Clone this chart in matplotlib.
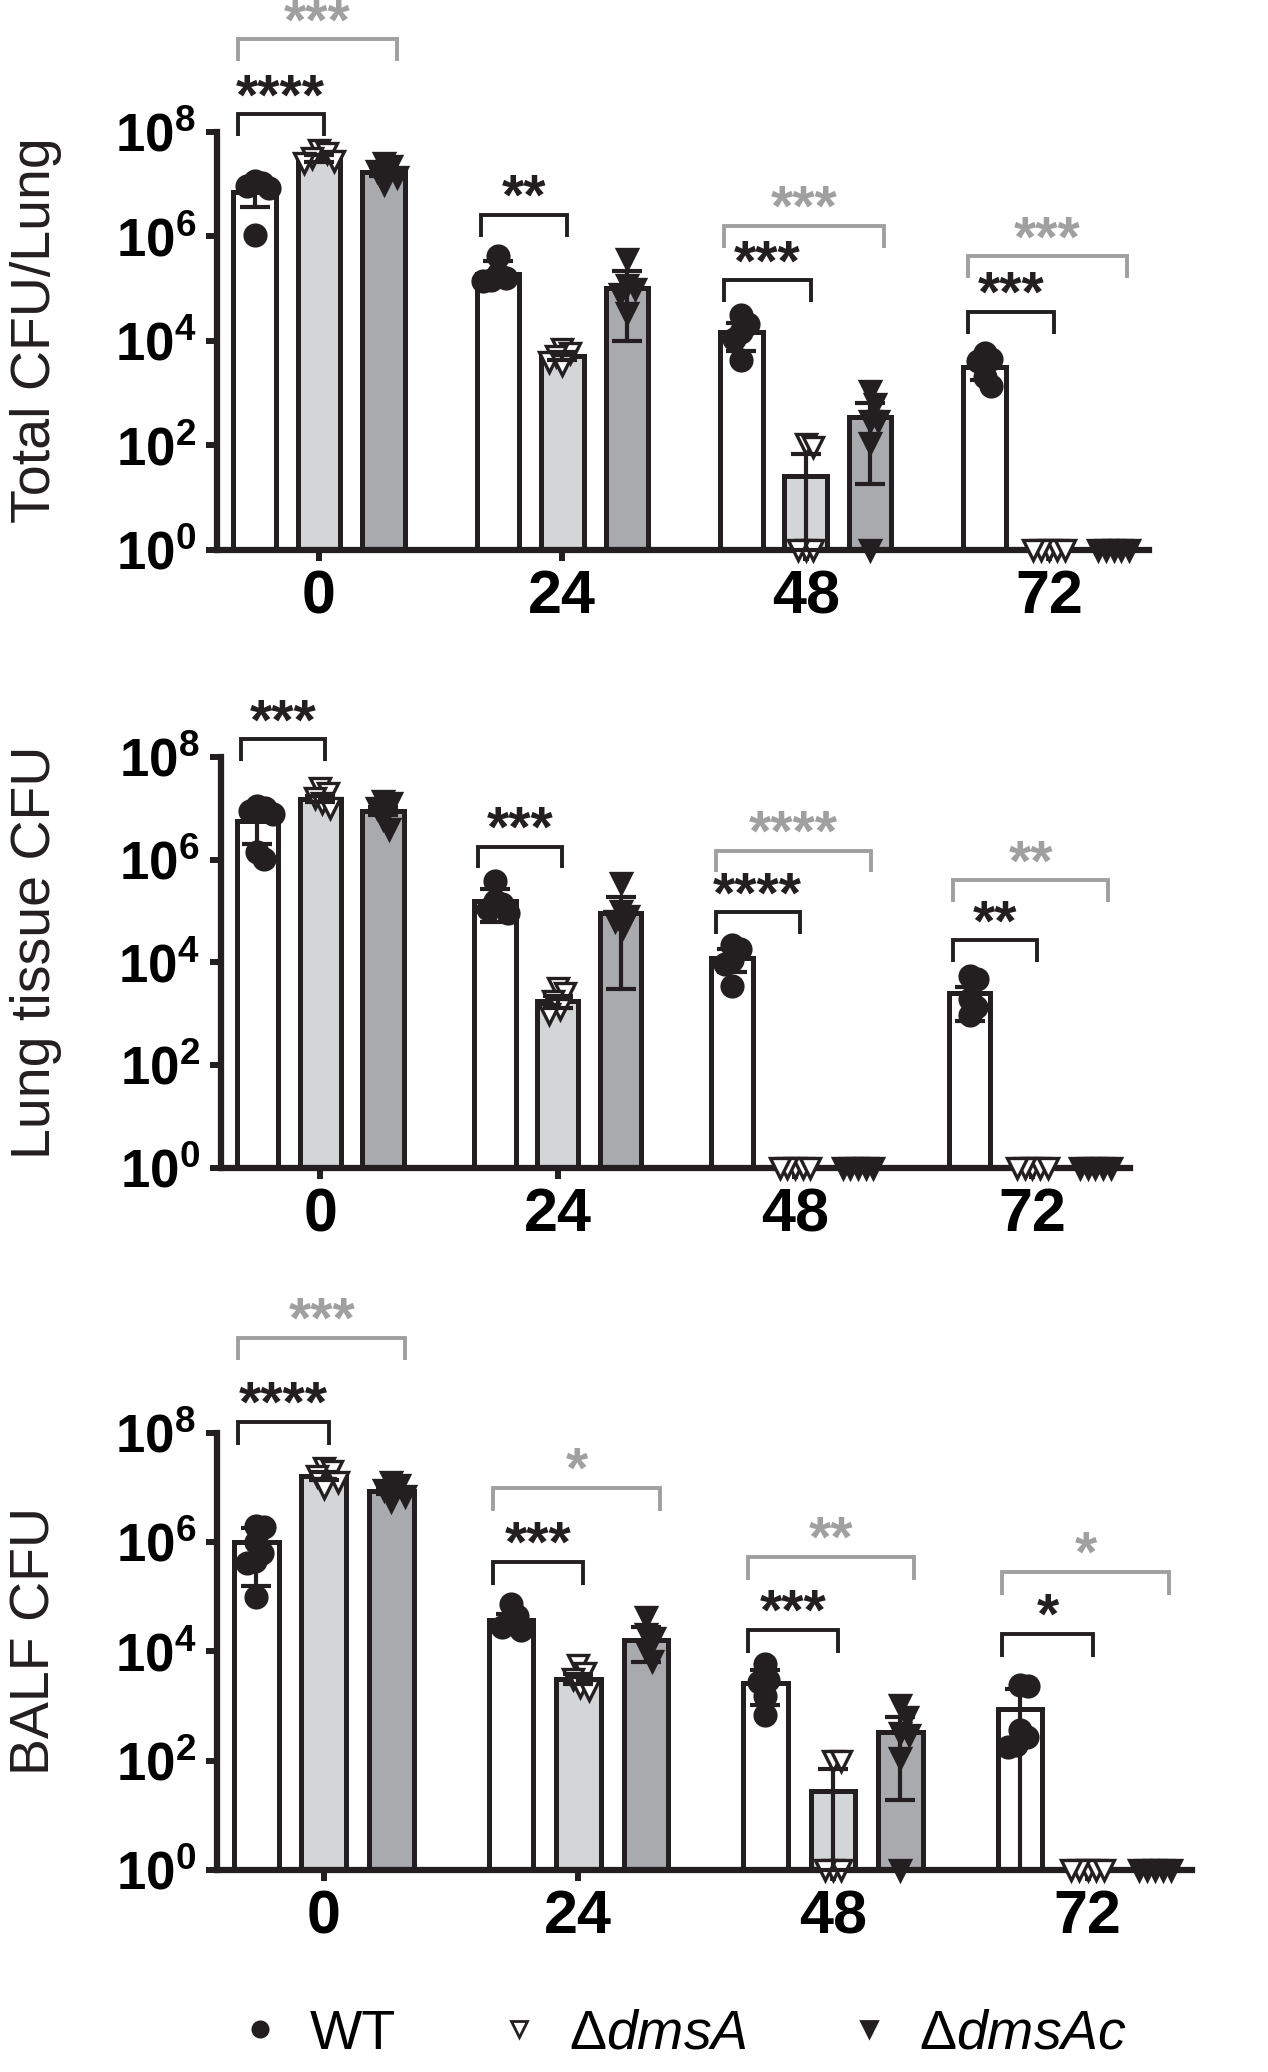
import numpy as np
import matplotlib
matplotlib.use('Agg')
import matplotlib.pyplot as plt
from matplotlib import font_manager
from matplotlib.lines import Line2D
from matplotlib.ticker import NullLocator

# ---------------- data (CFU) ----------------
groups = ['0', '24', '48', '72']
strains = ['WT', r'$\Delta\mathit{dmsA}$', r'$\Delta\mathit{dmsAc}$']

# panel 1: total CFU / lung
total_mean = [[7.0e6, 1.9e5, 1.5e4, 3.2e3],
              [3.1e7, 5.2e3, 26, 0],
              [1.75e7, 1.05e5, 350, 0]]
total_lo = [[3.7e6, 1.3e5, 6.5e3, 1.75e3],
            [2.7e7, 4.3e3, 1, 0],
            [1.45e7, 1.0e4, 18, 0]]
total_hi = [[1.05e7, 3.4e5, 2.2e4, 4.3e3],
            [3.6e7, 6.1e3, 68, 0],
            [2.1e7, 2.15e5, 650, 0]]
total_pts = [[[1.15e7, 1.07e7, 9.3e6, 8.3e6, 1.07e6],
              [4.2e5, 1.95e5, 1.6e5, 1.5e5, 1.4e5],
              [3.1e4, 2.1e4, 1.5e4, 1.1e4, 4.4e3],
              [6.0e3, 4.5e3, 4.2e3, 2.0e3, 1.4e3]],
             [[4.5e7, 4.0e7, 3.2e7, 2.8e7, 2.5e7],
              [7.1e3, 6.0e3, 5.2e3, 4.0e3, 3.5e3],
              [105, 95, 0, 0, 0],
              [0, 0, 0, 0, 0]],
             [[2.6e7, 2.2e7, 1.8e7, 1.4e7, 1.0e7],
              [3.7e5, 1.2e5, 1.0e5, 8.0e4, 3.5e4],
              [1.1e3, 620, 300, 290, 110, 0],
              [0, 0, 0, 0, 0]]]
total_sig_black = ['****', '**', '***', '***']
total_sig_black_y = [2.2e8, 2.6e6, 1.45e5, 3.6e4]
total_sig_gray = ['***', '', '***', '***']
total_sig_gray_y = [6.0e9, 0, 1.6e6, 4.2e5]

# panel 2: lung tissue CFU
tissue_mean = [[5.6e6, 1.55e5, 1.2e4, 2.6e3],
               [1.5e7, 1.75e3, 0, 0],
               [9.0e6, 9.1e4, 0, 0]]
tissue_lo = [[2.0e6, 6.0e4, 6.5e3, 7.4e2],
             [1.3e7, 1.3e3, 0, 0],
             [7.5e6, 3.1e3, 0, 0]]
tissue_hi = [[9.2e6, 2.7e5, 1.8e4, 3.3e3],
             [1.7e7, 2.2e3, 0, 0],
             [1.05e7, 1.85e5, 0, 0]]
tissue_pts = [[[1.1e7, 1.0e7, 8.9e6, 7.9e6, 1.4e6, 1.05e6],
               [3.8e5, 1.6e5, 1.4e5, 1.1e5, 9.0e4],
               [2.2e4, 1.8e4, 1.1e4, 9.3e3, 3.5e3],
               [5.5e3, 4.8e3, 1.95e3, 1.35e3, 9.3e2]],
              [[2.5e7, 2.0e7, 1.6e7, 1.25e7, 1.0e7],
               [3.2e3, 2.5e3, 1.8e3, 1.25e3, 1.0e3],
               [0, 0, 0, 0, 0],
               [0, 0, 0, 0, 0]],
              [[1.4e7, 1.25e7, 1.0e7, 6.3e6, 4.0e6],
               [3.5e5, 1.0e5, 8.0e4, 6.3e4, 5.0e4],
               [0, 0, 0, 0, 0],
               [0, 0, 0, 0, 0]]]
tissue_sig_black = ['***', '***', '****', '**']
tissue_sig_black_y = [2.2e8, 1.8e6, 9.5e4, 2.7e4]
tissue_sig_gray = ['', '', '****', '**']
tissue_sig_gray_y = [0, 0, 1.5e6, 4.0e5]

# panel 3: BALF CFU
balf_mean = [[1.0e6, 3.8e4, 2.6e3, 8.7e2],
             [1.6e7, 3.1e3, 28, 0],
             [8.5e6, 1.6e4, 340, 0]]
balf_lo = [[1.6e5, 3.0e4, 1.05e3, 1],
           [1.35e7, 2.5e3, 1, 0],
           [7.5e6, 6.3e3, 19, 0]]
balf_hi = [[1.8e6, 4.8e4, 4.5e3, 2.1e3],
           [1.9e7, 3.8e3, 72, 0],
           [9.8e6, 2.75e4, 630, 0]]
balf_pts = [[[2.0e6, 1.9e6, 1.0e6, 6.3e5, 4.5e5, 4.2e5, 1.0e5],
             [7.4e4, 4.5e4, 3.5e4, 2.8e4, 2.5e4],
             [5.9e3, 3.0e3, 2.75e3, 1.5e3, 6.8e2],
             [2.4e3, 2.3e3, 3.6e2, 2.75e2, 1.95e2, 1.8e2]],
            [[2.3e7, 2.0e7, 1.6e7, 1.25e7, 1.0e7],
             [5.6e3, 4.0e3, 3.2e3, 2.2e3, 2.0e3],
             [100, 100, 0, 0, 0],
             [0, 0, 0, 0, 0]],
            [[1.25e7, 1.1e7, 9.0e6, 7.0e6, 5.6e6],
             [4.2e4, 2.1e4, 1.8e4, 1.05e4, 6.8e3],
             [1.05e3, 630, 320, 300, 110, 0],
             [0, 0, 0, 0, 0]]]
balf_sig_black = ['****', '***', '***', '*']
balf_sig_black_y = [1.6e8, 4.4e5, 2.5e4, 2.1e4]
balf_sig_gray = ['***', '*', '**', '*']
balf_sig_gray_y = [5.6e9, 1.0e7, 5.4e5, 2.9e5]

ylabels = ['Total CFU/Lung', 'Lung tissue CFU', 'BALF CFU']

# ---------------- style ----------------
available = {f.name for f in font_manager.fontManager.ttflist}
cond = 'Liberation Sans Narrow' if 'Liberation Sans Narrow' in available else 'Liberation Sans'

plt.rcParams['font.family'] = [cond, 'Liberation Sans', 'DejaVu Sans']
plt.rcParams['mathtext.fontset'] = 'custom'
plt.rcParams['mathtext.rm'] = 'Liberation Sans'
plt.rcParams['mathtext.it'] = cond + ':italic'
plt.rcParams['mathtext.bf'] = cond + ':bold'

ink = '#231f20'
gray_sig = '#a0a0a0'
fills = ['white', '#d3d5d7', '#a8aaad']
markers = ['o', 'v', 'v']
mfaces = [ink, 'white', ink]
bar_off = [-0.265, 0.0, 0.265]
bar_w = 0.175


def swarm(vals, dx=0.03, dy=0.3):
    # simple beeswarm in (x, log10 y) space
    placed = []
    xs = []
    for v in vals:
        ly = np.log10(max(v, 1))
        cands = [0.0]
        for k in range(1, 60):
            cands += [k * 0.004, -k * 0.004]
        for c in cands:
            ok = all(((c - px) / dx) ** 2 + ((ly - py) / dy) ** 2 >= 1 for px, py in placed)
            if ok:
                break
        placed.append((c, ly))
        xs.append(c)
    return xs


def bracket(ax, g, h, stars, color, right):
    x0, x1 = g - 0.335, g + right
    leg = h / 10 ** 0.42
    ax.plot([x0, x0, x1, x1], [leg, h, h, leg], color=color, lw=2.8,
            clip_on=False, solid_joinstyle='miter', solid_capstyle='butt')
    ax.text((x0 + x1) / 2, h, stars, ha='center', va='baseline',
            fontsize=41, fontweight='bold', color=color,
            family='Liberation Sans')


fig = plt.figure(figsize=(12.68, 20.72), dpi=100)
rects = [(0.171, 0.7346, 0.735, 0.2017),
         (0.174, 0.4363, 0.717, 0.1984),
         (0.171, 0.0975, 0.769, 0.2109)]

panels = [(total_mean, total_lo, total_hi, total_pts,
           total_sig_black, total_sig_black_y, total_sig_gray, total_sig_gray_y),
          (tissue_mean, tissue_lo, tissue_hi, tissue_pts,
           tissue_sig_black, tissue_sig_black_y, tissue_sig_gray, tissue_sig_gray_y),
          (balf_mean, balf_lo, balf_hi, balf_pts,
           balf_sig_black, balf_sig_black_y, balf_sig_gray, balf_sig_gray_y)]

x = np.arange(len(groups))

for pi, (rect, pdata) in enumerate(zip(rects, panels)):
    means, lows, highs, pts, sb, sby, sg, sgy = pdata
    ax = fig.add_axes(rect)
    ax.set_yscale('log')

    for si in range(3):
        xs = x + bar_off[si]
        m = np.array(means[si], dtype=float)
        keep = m > 0
        ax.bar(xs[keep], m[keep] - 1, bottom=1, width=bar_w, color=fills[si],
               edgecolor=ink, linewidth=3.6, zorder=2)
        for gi in range(len(groups)):
            vals = pts[si][gi]
            offs = swarm(vals)
            ax.plot(xs[gi] + np.array(offs), np.maximum(vals, 1), ls='none',
                    marker=markers[si], markersize=15, markerfacecolor=mfaces[si],
                    markeredgecolor=ink, markeredgewidth=2.4, clip_on=False, zorder=4)
        lo = np.array(lows[si], dtype=float)
        hi = np.array(highs[si], dtype=float)
        ax.errorbar(xs[keep], m[keep], yerr=[m[keep] - lo[keep], hi[keep] - m[keep]],
                    fmt='none', ecolor=ink, elinewidth=3.0, capsize=11, capthick=3.0,
                    zorder=5, clip_on=False)

    for gi in range(len(groups)):
        if sb[gi]:
            bracket(ax, x[gi], sby[gi], sb[gi], ink, 0.02)
        if sg[gi]:
            bracket(ax, x[gi], sgy[gi], sg[gi], gray_sig, 0.32)

    ax.set_ylim(1, 1e8)
    ax.set_xlim(-0.42, 3.41)
    ax.set_yticks([1, 1e2, 1e4, 1e6, 1e8])
    ax.set_yticklabels([r'$\mathbf{10^{%d}}$' % e for e in (0, 2, 4, 6, 8)])
    ax.yaxis.set_minor_locator(NullLocator())
    ax.set_xticks(x)
    ax.set_xticklabels(groups, fontsize=44, fontweight='bold')
    for lab in ax.get_yticklabels():
        lab.set_fontsize(38)
    ax.tick_params(axis='y', length=8, width=4.3, color=ink, pad=7)
    ax.tick_params(axis='x', length=8, width=4.3, color=ink, pad=6)
    for side in ('top', 'right'):
        ax.spines[side].set_visible(False)
    for side in ('left', 'bottom'):
        ax.spines[side].set_linewidth(4.5)
        ax.spines[side].set_color(ink)
    ax.set_facecolor('none')

    fig.text(0.028, rect[1] + rect[3] / 2 + 0.005, ylabels[pi], rotation=90,
             ha='center', va='center', fontsize=40, family='Liberation Sans', color=ink)

handles = [Line2D([], [], ls='none', marker=markers[i], markersize=11,
                  markerfacecolor=mfaces[i], markeredgecolor=ink, markeredgewidth=2)
           for i in range(3)]
fig.legend(handles, strains, loc='center', bbox_to_anchor=(0.536, 0.018), ncol=3,
           frameon=False, fontsize=40, handlelength=1.0, handletextpad=0.4,
           columnspacing=1.7)

fig.savefig('out.png', dpi=100)
